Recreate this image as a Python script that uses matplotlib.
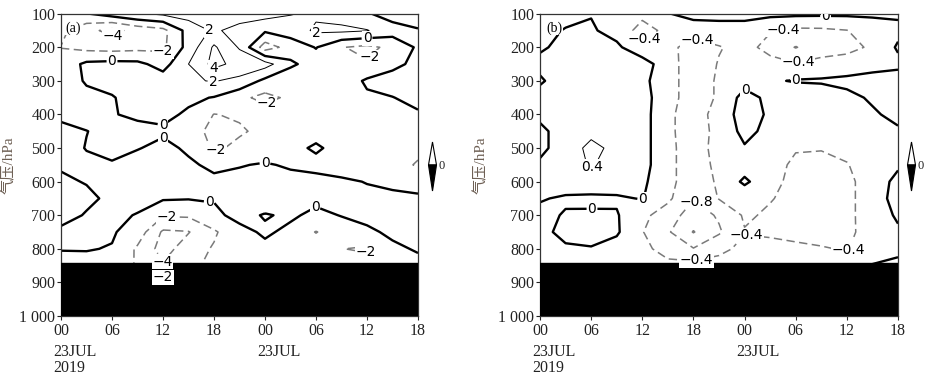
import numpy as np
import matplotlib.pyplot as plt
import matplotlib.transforms as mtransforms
from matplotlib.patches import Polygon

plt.rcParams['font.family'] = ['Liberation Serif', 'Noto Sans CJK SC']
plt.rcParams['lines.scale_dashes'] = False
plt.rcParams['lines.dashed_pattern'] = [6.0, 3.2]

# grid: hours since 00 UTC 23 Jul 2019 (every 3 h) and pressure levels
hours = [0, 3, 6, 9, 12, 15, 18, 21, 24, 27, 30, 33, 36, 39, 42]
pressure = [100, 150, 200, 250, 300, 350, 400, 450, 500, 550, 600, 650, 700, 750, 800, 850, 900]
ground = 842  # surface, drawn black below

# panel (a) values, one row per pressure level (top -> bottom)
field_a = [
    [-1.2, -0.1, 0.9, 1.8, 2.4, 2.8, 3.0, 3.0, 2.8, 2.1, 1.7, 1.2, 0.2, -0.9, -2.1],
    [-1.5, -3.4, -4.6, -3.3, -2.6, 0.8, 2.3, 1.3, 0.3, 1.0, 2.3, 2.4, 2.1, 0.9, 0.3],
    [-2.05, -2.6, -2.8, -2.6, -2.4, 0.7, 4.3, 1.8, -3.0, -1.2, 0.1, -1.9, -2.5, -1.5, 0.3],
    [-1.2, 0.4, 0.6, 0.5, -0.8, 2.0, 4.6, 3.3, 2.8, 0.4, -1.0, -1.6, -1.8, -0.5, 0.5],
    [-1.1, 0.2, 0.5, 0.8, 1.0, 1.8, 2.1, 1.5, -0.5, -1.5, -1.6, -1.2, 0.3, 0.8, 0.9],
    [-1.0, -0.5, -0.1, 0.6, 0.8, 0.4, -0.1, -1.5, -2.6, -1.6, -1.0, -0.6, -0.3, -0.05, 0.5],
    [-0.4, -1.0, -0.1, 0.3, 0.5, -0.3, -2.05, -1.8, -1.0, -0.7, -0.5, -0.5, -0.6, -0.7, -0.2],
    [0.5, 0.05, -0.7, -0.5, -0.3, -1.4, -2.4, -2.2, -1.6, -0.7, -0.5, -0.7, -0.9, -0.9, -0.8],
    [1.0, -0.1, -0.6, -0.1, 0.5, -0.3, -2.3, -1.6, -1.0, -0.4, 0.2, -0.5, -0.8, -1.0, -1.5],
    [0.2, 0.5, 0.2, 0.8, 1.0, 0.3, -0.4, -0.1, 0.15, -0.2, -0.4, -0.6, -0.8, -1.2, -2.2],
    [-0.3, 0.1, 0.6, 1.2, 1.5, 1.0, 0.4, 0.5, 0.6, 0.5, 0.4, 0.2, -0.05, -0.3, -0.5],
    [-0.8, -0.4, 0.4, 0.6, 0.2, 0.1, 0.1, 0.6, 0.8, 0.7, 0.3, 0.4, 0.3, 0.3, 0.2],
    [-0.7, 0.15, 0.4, -0.1, -1.8, -1.7, -0.3, 0.4, -0.1, 0.2, -0.3, 0.05, 0.3, 0.5, 0.6],
    [0.4, 0.4, 0.2, -0.9, -4.3, -4.1, -2.3, -0.4, 0.2, -0.3, -2.1, -0.6, -0.2, 0.2, 0.5],
    [0.1, 0.1, -0.1, -2.3, -4.8, -3.0, -1.8, -0.8, -0.3, -0.5, -0.6, -1.95, -2.3, -0.2, 0.1],
    [-0.8, -0.6, -0.8, -2.2, -3.8, -2.8, -1.2, -0.8, -0.5, -0.5, -0.6, -1.0, -1.0, -0.6, -0.3],
    [-0.5, -0.5, -0.5, -1.0, -1.2, -1.0, -0.6, -0.5, -0.5, -0.5, -0.5, -0.5, -0.5, -0.5, -0.3],
]

# panel (b) values
field_b = [
    [-0.1, -0.1, -0.02, -0.15, -0.3, -0.02, 0.15, 0.15, 0.15, 0.1, 0.08, 0.07, 0.07, 0.06, 0.06],
    [-0.1, 0.02, 0.05, -0.15, -0.55, -0.3, -0.25, -0.2, -0.2, -0.38, -0.48, -0.47, -0.41, -0.2, -0.1],
    [-0.05, 0.1, 0.15, 0.08, -0.3, -0.3, -0.55, -0.42, -0.3, -0.5, -0.82, -0.55, -0.5, -0.35, 0.05],
    [0.1, 0.2, 0.2, 0.2, 0.2, -0.25, -0.6, -0.38, -0.2, -0.3, -0.37, -0.3, -0.25, -0.15, -0.1],
    [-0.05, 0.2, 0.25, 0.25, 0.1, -0.25, -0.6, -0.35, -0.15, -0.05, 0.03, 0.05, 0.1, 0.15, 0.2],
    [0.15, 0.25, 0.3, 0.3, 0.15, -0.25, -0.6, -0.35, 0.15, -0.1, -0.3, -0.25, -0.1, 0.05, 0.2],
    [0.15, 0.3, 0.35, 0.3, 0.15, -0.3, -0.65, -0.2, 0.15, -0.05, -0.3, -0.3, -0.25, -0.05, 0.1],
    [-0.15, 0.3, 0.35, 0.35, 0.15, -0.3, -0.65, -0.25, 0.1, -0.1, -0.3, -0.3, -0.3, -0.2, -0.05],
    [-0.15, 0.3, 0.45, 0.35, 0.15, -0.3, -0.6, -0.25, -0.03, -0.15, -0.38, -0.38, -0.3, -0.2, -0.1],
    [0.1, 0.3, 0.42, 0.3, 0.15, -0.3, -0.6, -0.3, -0.2, -0.3, -0.45, -0.5, -0.42, -0.2, -0.05],
    [0.1, 0.2, 0.25, 0.2, 0.08, -0.3, -0.6, -0.35, 0.08, -0.3, -0.5, -0.55, -0.5, -0.2, 0.1],
    [0.03, -0.05, -0.08, -0.05, 0.02, -0.32, -0.78, -0.38, -0.3, -0.38, -0.5, -0.55, -0.5, -0.2, 0.15],
    [-0.1, 0.03, 0.05, 0.03, -0.3, -0.6, -1.0, -0.75, -0.35, -0.45, -0.5, -0.55, -0.5, -0.2, 0.05],
    [-0.1, 0.1, 0.12, 0.05, -0.38, -0.75, -1.22, -0.85, -0.42, -0.45, -0.5, -0.5, -0.48, -0.25, -0.05],
    [-0.15, -0.05, -0.02, -0.15, -0.3, -0.55, -0.78, -0.5, -0.3, -0.3, -0.33, -0.38, -0.42, -0.2, -0.1],
    [-0.2, -0.1, -0.1, -0.15, -0.2, -0.3, -0.25, -0.25, -0.2, -0.2, -0.2, -0.25, -0.25, 0.02, 0.1],
    [-0.2, -0.1, -0.1, -0.15, -0.2, -0.3, -0.3, -0.25, -0.2, -0.2, -0.2, -0.25, -0.25, 0.02, 0.1],
]

levels_a_neg = [-4, -2]
levels_a_pos = [2, 4]
levels_b_neg = [-1.2, -0.8, -0.4]
levels_b_pos = [0.4]

tick_hours = [0, 6, 12, 18, 24, 30, 36, 42]
tick_names = ['00', '06', '12', '18', '00', '06', '12', '18']
date_marks = [(0, '23JUL\n2019'), (24, '23JUL')]
ytick_vals = [100, 200, 300, 400, 500, 600, 700, 800, 900, 1000]
ytick_names = ['100', '200', '300', '400', '500', '600', '700', '800', '900', '1 000']

# where the contour labels sit (hour, hPa)
spots_a = {
    'neg': [(6.2, 168), (12.6, 225), (36.6, 238), (24.2, 368), (18.3, 512),
            (12.4, 705), (12.0, 838), (12.0, 886), (35.8, 812)],
    'zero': [(6, 240), (12, 431), (12, 470), (24, 541), (17.5, 650), (29.9, 676), (36, 170)],
    'pos': [(17.4, 150), (17.9, 262), (17.9, 300), (30, 158)],
}
spots_b = {
    'neg': [(12.1, 172), (18.4, 182), (28.5, 145), (30.3, 247), (24.3, 748),
            (18.4, 836), (36.2, 806), (18.4, 656)],
    'zero': [(33.5, 110), (30, 298), (24.1, 326), (6.1, 682), (12.2, 658)],
    'pos': [(6.1, 558)],
}


def label_fmt(v):
    return f'{v:g}'.replace('-', '\u2212')


W, H = 932.0, 382.0
fig = plt.figure(figsize=(9.32, 3.82), dpi=100)
ax_a = fig.add_axes([61 / W, 1 - 316 / H, 357 / W, 302.3 / H])
ax_b = fig.add_axes([540 / W, 1 - 316 / H, 358 / W, 302.3 / H])


def draw_panel(ax, field, neg_levels, pos_levels, spots, tag, tag_x, ylab_x):
    z = np.array(field)
    ax.set_xlim(0, 42)
    ax.set_ylim(1000, 100)

    cs_neg = ax.contour(hours, pressure, z, levels=neg_levels, colors='#7a7a7a',
                        linewidths=1.1, linestyles='dashed', zorder=2)
    cs_zero = ax.contour(hours, pressure, z, levels=[0], colors='black',
                         linewidths=1.7, linestyles='solid', zorder=2)
    cs_pos = ax.contour(hours, pressure, z, levels=pos_levels, colors='black',
                        linewidths=0.7, linestyles='solid', zorder=2)
    ax.axhspan(ground, 1000, color='black', zorder=3)

    texts = []
    for cs, key in ((cs_neg, 'neg'), (cs_zero, 'zero'), (cs_pos, 'pos')):
        texts += ax.clabel(cs, fmt=label_fmt, fontsize=10, colors='black',
                           manual=spots[key], inline=True, inline_spacing=2)
    for t in texts:
        t.set_rotation(0)
        t.set_fontfamily('DejaVu Sans')
        t.set_zorder(5)
        t.set_bbox(dict(facecolor='white', edgecolor='none', pad=0.4))

    ax.set_xticks(tick_hours)
    ax.set_xticklabels(tick_names)
    ax.set_yticks(ytick_vals)
    ax.set_yticklabels(ytick_names)
    ax.tick_params(axis='both', direction='out', length=3, width=0.8,
                   labelsize=11.5, colors='#222222', top=False, right=False)
    ax.tick_params(axis='y', pad=1)
    ax.tick_params(axis='x', pad=2)
    for s in ax.spines.values():
        s.set_linewidth(0.9)
        s.set_color('#333333')

    trans = mtransforms.blended_transform_factory(ax.transData, ax.transAxes)
    for hr, txt in date_marks:
        ax.text(hr - 0.95, -0.091, txt, transform=trans, ha='left', va='top',
                fontsize=11.5, linespacing=1.05, color='#222222', clip_on=False)

    ax.text(tag_x, 0.975, tag, transform=ax.transAxes, ha='left', va='top',
            fontsize=10, zorder=6,
            bbox=dict(facecolor='white', edgecolor='none', pad=0.3))

    ax.set_ylabel('气压/hPa', fontsize=11, color='#6e6055')
    ax.yaxis.set_label_coords(ylab_x, 0.5)


def draw_icon(cx):
    # small up/down arrow key drawn right of each panel
    def fp(x, y):
        return (x / W, 1 - y / H)
    up = Polygon([fp(cx, 142), fp(cx - 4, 165), fp(cx + 4, 165)], closed=True,
                 facecolor='white', edgecolor='black', linewidth=0.8,
                 transform=fig.transFigure)
    down = Polygon([fp(cx - 4, 165), fp(cx + 4, 165), fp(cx, 191)], closed=True,
                   facecolor='black', edgecolor='black', linewidth=0.8,
                   transform=fig.transFigure)
    fig.add_artist(up)
    fig.add_artist(down)
    x0, y0 = fp(cx + 9, 166)
    fig.text(x0, y0, '0', ha='center', va='center', fontsize=9, color='#222222')


draw_panel(ax_a, field_a, levels_a_neg, levels_a_pos, spots_a, '(a)', 0.011, -0.125)
draw_panel(ax_b, field_b, levels_b_neg, levels_b_pos, spots_b, '(b)', 0.019, -0.145)
draw_icon(432.5)
draw_icon(911.5)

fig.savefig('out.png', dpi=100)
